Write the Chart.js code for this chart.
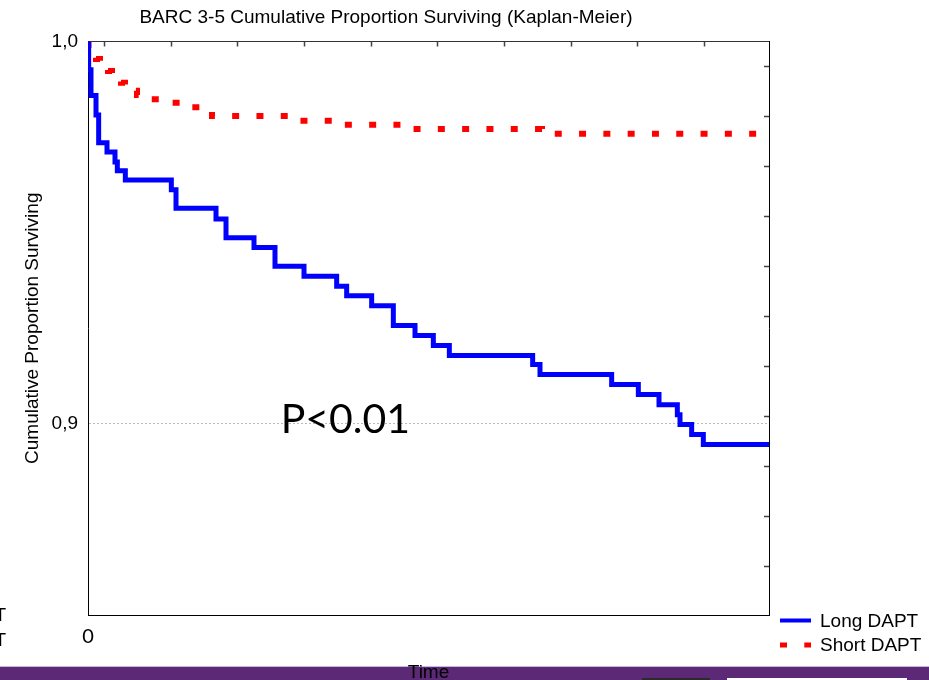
<!DOCTYPE html>
<html>
<head>
<meta charset="utf-8">
<script src="https://cdn.jsdelivr.net/npm/chart.js@4.4.1/dist/chart.umd.min.js"></script>
<style>
  html, body { margin: 0; padding: 0; background: #fff; }
  #wrap { width: 929px; height: 680px; position: relative; }
</style>
</head>
<body>
<div id="wrap"><canvas id="myChart" width="929" height="680"></canvas></div>
<script>
// Kaplan-Meier steps
const longTime = [0, 1, 4.5, 12, 16, 28.5, 40.5, 44, 56, 125, 132, 192, 207, 249, 280.5, 324, 373, 388, 425.5, 458,
                  490.5, 518, 542, 667, 678, 785.5, 825.5, 856.5, 884, 888, 905.5, 923, 1023];
const longSurv = [1.0, 0.9926, 0.9859, 0.9808, 0.9735, 0.9711, 0.9685, 0.9662, 0.9638, 0.9612, 0.9564, 0.9536, 0.9487,
                  0.9461, 0.9412, 0.9386, 0.9360, 0.9335, 0.9309, 0.9257, 0.9231, 0.9205, 0.9179, 0.9155, 0.9129,
                  0.9103, 0.9077, 0.9050, 0.9024, 0.8998, 0.8972, 0.8946, 0.8946];
const shortTime = [0, 0.75, 6, 12, 18, 24, 30, 36, 42, 49.5, 55.5, 64.5, 73.5, 93, 108, 153, 178.5, 186, 313.5, 379.5,
                   483, 681, 1023];
const shortSurv = [1.0, 0.9978, 0.9965, 0.9954, 0.9945, 0.9933, 0.9923, 0.9912, 0.9902, 0.9892, 0.9881, 0.9871,
                   0.9860, 0.9849, 0.9840, 0.9828, 0.9816, 0.9805, 0.9793, 0.9782, 0.9771, 0.9759, 0.9759];

const seriesNames = ['Long DAPT', 'Short DAPT'];
const yTickValues = [0.9, 1.0];
const yTickLabels = ['0,9', '1,0'];
const xTickValues = [0];
const xTickLabels = ['0'];
const topTickValues = [24, 124, 224, 324, 424, 524, 624, 724, 824, 924];
const rightTickValues = [0, 1, 2, 3, 4, 5, 6, 7, 8, 9, 10];
const pValueText = 'P<0.01';

const ARIAL = "'Liberation Sans', Arial, sans-serif";

const ctx = document.getElementById('myChart').getContext('2d');

// page background, purple footer band
const backdrop = {
    id: 'backdrop',
    beforeDraw(chart) {
        const {ctx, width, height} = chart;
        ctx.save();
        ctx.fillStyle = '#fff';
        ctx.fillRect(0, 0, width, height);
        ctx.fillStyle = '#c9b6d9';
        ctx.fillRect(0, 666, width, 1);
        ctx.fillStyle = '#5c2977';
        ctx.fillRect(0, 667, width, height - 667);
        ctx.fillStyle = '#2b2b2b';
        ctx.fillRect(642, 678, 68, 2);
        ctx.fillStyle = '#fff';
        ctx.fillRect(727, 678, 180, 2);
        ctx.restore();
    }
};

// ticks on top and right frame point inward
const innerTicks = {
    id: 'innerTicks',
    afterDraw(chart) {
        const {ctx, chartArea: {top, right}, scales: {x2, y2}} = chart;
        ctx.save();
        ctx.strokeStyle = '#444';
        ctx.lineWidth = 1.5;
        ctx.beginPath();
        x2.ticks.forEach(t => {
            const px = Math.round(x2.getPixelForValue(t.value)) + 0.5;
            ctx.moveTo(px, top);
            ctx.lineTo(px, top + 5);
        });
        y2.ticks.forEach(t => {
            const py = Math.round(y2.getPixelForValue(t.value)) + 0.5;
            ctx.moveTo(right - 5, py);
            ctx.lineTo(right, py);
        });
        ctx.stroke();
        ctx.restore();
    }
};

// title, p-value, legend
const texts = {
    id: 'texts',
    afterDraw(chart) {
        const {ctx, scales: {x, y}} = chart;
        const ds = chart.data.datasets;
        ctx.save();
        ctx.fillStyle = '#000';
        ctx.textBaseline = 'alphabetic';

        ctx.font = '19px ' + ARIAL;
        ctx.textAlign = 'center';
        ctx.fillText('BARC 3-5 Cumulative Proportion Surviving (Kaplan-Meier)', 386, 22.5);

        ctx.font = '41px Lato';
        ctx.fillText(pValueText, x.getPixelForValue(386), y.getPixelForValue(0.8976));

        // legend
        ctx.font = '19px ' + ARIAL;
        ctx.textAlign = 'left';
        ctx.textBaseline = 'middle';
        const rows = [620.5, 645];
        ds.forEach((d, i) => {
            ctx.save();
            ctx.strokeStyle = d.borderColor;
            ctx.lineWidth = i === 0 ? 4 : 5;
            ctx.setLineDash(d.borderDash || []);
            ctx.beginPath();
            ctx.moveTo(780, rows[i]);
            ctx.lineTo(811, rows[i]);
            ctx.stroke();
            ctx.restore();
            ctx.fillText(seriesNames[i], 820, rows[i] + 1);
        });

        // clipped copy of the legend at the left page edge
        ctx.textAlign = 'right';
        ctx.fillText(seriesNames[0], 6, 616);
        ctx.fillText(seriesNames[1], 6, 640.5);
        ctx.restore();
    }
};

const chart = new Chart(ctx, {
    type: 'line',
    data: {
        datasets: [{
            label: seriesNames[0],
            data: longTime.map((t, i) => ({x: t, y: longSurv[i]})),
            borderColor: '#0000ff',
            borderWidth: 5,
            stepped: 'before',
            pointRadius: 0,
            borderJoinStyle: 'miter',
            fill: false
        }, {
            label: seriesNames[1],
            data: shortTime.map((t, i) => ({x: t, y: shortSurv[i]})),
            borderColor: '#ff0000',
            borderWidth: 6,
            borderDash: [7, 17.3],
            borderCapStyle: 'butt',
            stepped: 'before',
            pointRadius: 0,
            fill: false
        }]
    },
    options: {
        responsive: false,
        animation: false,
        events: [],
        layout: {padding: 0},
        plugins: {
            legend: {display: false},
            tooltip: {enabled: false},
            title: {display: false}
        },
        scales: {
            x: {
                type: 'linear',
                position: 'bottom',
                min: 0,
                max: 1021.5,
                afterBuildTicks: s => { s.ticks = xTickValues.map(v => ({value: v})); },
                afterFit: s => { s.height = 65; },
                grid: {display: false},
                border: {display: true, color: '#000', width: 1},
                ticks: {
                    padding: 2,
                    color: '#000',
                    font: {family: 'Lato', size: 20},
                    callback: v => xTickLabels[xTickValues.indexOf(v)]
                },
                title: {
                    display: true,
                    text: 'Time',
                    color: '#000',
                    font: {family: ARIAL, size: 19, lineHeight: 0.8},
                    padding: {top: 0, bottom: 0}
                }
            },
            x2: {
                type: 'linear',
                position: 'top',
                min: 0,
                max: 1021.5,
                afterBuildTicks: s => { s.ticks = topTickValues.map(v => ({value: v})); },
                afterFit: s => { s.height = 41.5; },
                grid: {display: false},
                ticks: {display: false},
                border: {display: true, color: '#333', width: 1}
            },
            y: {
                type: 'linear',
                position: 'left',
                min: 0.85,
                max: 1.0,
                afterBuildTicks: s => { s.ticks = yTickValues.map(v => ({value: v})); },
                afterFit: s => { s.width = 88; },
                grid: {
                    drawTicks: false,
                    color: c => (c.tick && c.tick.value === 0.9) ? '#b8b8b8' : 'rgba(0,0,0,0)',
                    lineWidth: 1
                },
                border: {display: true, color: '#000', width: 1, dash: [2, 2]},
                ticks: {
                    padding: 10,
                    color: '#000',
                    font: {family: ARIAL, size: 19},
                    callback: v => yTickLabels[yTickValues.indexOf(v)]
                },
                title: {
                    display: true,
                    text: 'Cumulative Proportion Surviving',
                    color: '#000',
                    font: {family: ARIAL, size: 19},
                    padding: {top: 21.6, bottom: 0}
                }
            },
            y2: {
                type: 'linear',
                position: 'right',
                min: -0.98,
                max: 10.48,
                afterBuildTicks: s => { s.ticks = rightTickValues.map(v => ({value: v})); },
                afterFit: s => { s.width = 160; },
                grid: {display: false},
                ticks: {display: false},
                border: {display: true, color: '#000', width: 1}
            }
        }
    },
    plugins: [backdrop, innerTicks, texts]
});
</script>
</body>
</html>
